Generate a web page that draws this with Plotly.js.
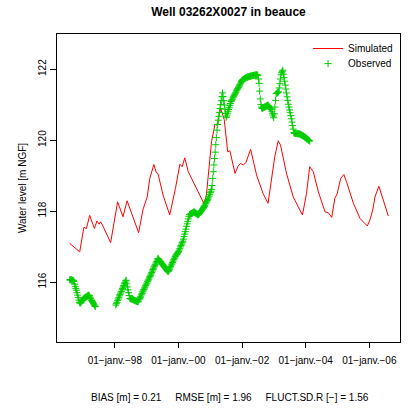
<!DOCTYPE html>
<html>
<head>
<meta charset="utf-8">
<script src="https://cdn.plot.ly/plotly-3.0.1.min.js"></script>
<style>html,body{margin:0;padding:0;background:#fff;}</style>
</head>
<body>
<div id="chart" style="width:414px;height:409px;"></div>
<script>
// Simulated water level (m NGF)
const simDates = ["1996-08-01","1996-11-24","1997-01-10","1997-02-09","1997-03-18","1997-05-11","1997-06-10","1997-07-05","1997-07-20","1997-08-11","1997-11-14",
"1998-02-02","1998-04-05","1998-05-22","1998-10-01","1998-11-21","1999-01-08","1999-02-06","1999-03-25","1999-04-23","1999-05-11","1999-07-09","1999-09-23","1999-11-28",
"2000-01-18","2000-02-13","2000-03-14","2000-04-23","2000-07-08","2000-09-01","2000-10-22","2000-11-17",
"2001-01-15","2001-02-24","2001-03-18","2001-04-30","2001-06-10","2001-07-20","2001-08-14","2001-10-12","2001-11-17","2001-12-13",
"2002-01-15","2002-02-13","2002-04-09","2002-06-17","2002-08-29","2002-10-26",
"2003-01-11","2003-02-20","2003-03-18","2003-05-26","2003-08-11","2003-11-25",
"2004-01-11","2004-02-16","2004-03-28","2004-05-26","2004-08-10","2004-09-19","2004-10-26","2004-12-01","2004-12-27",
"2005-02-06","2005-03-14","2005-04-16","2005-07-02","2005-09-16","2005-12-09",
"2006-01-08","2006-02-09","2006-03-07","2006-04-20","2006-06-10","2006-08-07"];
const simLevel = [117.09,116.85,117.54,117.51,117.88,117.51,117.72,117.63,117.70,117.61,117.11,
118.26,117.84,118.29,117.39,118.05,118.40,118.92,119.31,119.08,119.06,118.45,117.89,118.64,
119.32,119.25,119.50,119.11,118.73,118.45,118.20,118.45,
119.95,120.45,120.42,120.89,120.58,119.67,119.70,119.06,119.27,119.34,
119.30,119.36,119.74,119.01,118.50,118.22,
119.53,119.98,119.86,119.06,118.40,117.89,
118.50,119.25,119.11,118.54,117.98,117.95,117.82,118.36,118.48,
118.92,119.03,118.81,118.22,117.79,117.58,
117.75,118.03,118.40,118.70,118.31,117.86];

// Observed water level (weekly readings), two periods
const obs1Start = "1996-08-01";
const obs1Level = [116.06,116.07,116.06,116.06,116.05,116.05,116.04,116.02,115.94,115.88,115.82,115.77,115.70,115.63,115.56,115.49,115.43,115.40,115.42,115.44,
115.47,115.49,115.51,115.53,115.55,115.56,115.57,115.58,115.59,115.61,115.62,115.63,115.62,115.58,115.55,115.52,115.48,115.45,115.42,115.39,115.36,115.33,115.31];
const obs2Start = "1998-01-12";
const obs2Level = [
115.35,115.39,115.43,115.48,115.52,115.56,115.61,115.65,115.69,115.73,115.78,115.82,115.86,115.90,115.95,115.99,116.03,116.05,
115.95,115.86,115.78,115.70,115.62,115.54,
115.53,115.53,115.52,115.51,115.50,115.50,115.49,115.48,115.47,115.47,115.46,115.45,115.44,
115.46,115.50,115.53,115.57,115.60,115.64,115.68,115.72,115.75,115.79,115.83,115.86,115.90,115.94,115.97,116.01,116.05,116.08,116.12,
116.16,116.19,116.23,116.27,116.31,116.35,116.39,116.43,116.46,116.50,116.54,116.58,116.62,116.66,
116.65,116.62,116.60,116.58,116.56,116.53,116.51,116.49,116.46,116.44,116.42,116.40,116.37,116.35,116.33,116.31,116.29,
116.32,116.36,116.40,116.44,116.48,116.51,116.55,116.59,116.63,116.67,116.71,
116.73,116.76,116.78,116.80,116.83,
116.86,116.90,116.94,116.99,117.03,117.07,117.11,117.15,
117.21,117.28,117.35,117.42,117.49,117.57,117.64,117.71,117.78,117.85,
117.90,117.91,117.92,117.93,117.94,117.95,117.96,117.98,
117.97,117.96,117.94,117.93,117.92,117.90,117.89,
117.91,117.93,117.96,117.98,118.00,118.02,118.05,118.07,
118.10,118.13,118.16,118.20,118.23,118.26,118.30,118.33,
118.37,118.42,118.47,118.52,118.56,118.61,
118.72,118.92,119.11,119.30,119.48,
119.66,119.87,120.07,120.28,
120.44,120.56,120.67,120.78,
120.89,121.00,121.11,121.22,121.33,
121.23,121.11,120.99,120.87,120.75,120.64,
120.68,120.74,120.80,120.86,120.91,120.97,121.03,
121.09,121.12,121.15,121.19,121.22,121.25,121.29,121.32,121.35,
121.39,121.42,121.45,121.48,121.52,121.55,121.58,121.61,121.65,121.68,
121.70,121.71,121.72,121.73,121.74,121.75,121.76,121.77,
121.78,121.78,121.79,121.79,121.80,121.80,121.81,121.81,121.82,121.82,121.82,121.83,121.83,121.83,121.84,121.84,121.84,
121.82,121.72,
121.60,121.38,121.16,121.00,
120.93,120.89,
120.90,120.91,120.92,120.93,120.94,120.95,120.96,120.97,120.98,
120.98,120.95,120.93,120.90,120.88,120.86,
120.80,120.74,120.68,120.63,
120.74,120.93,121.12,121.31,
121.32,121.33,121.35,121.36,
121.47,121.59,121.72,121.84,
121.90,121.94,121.97,
121.86,121.76,121.66,
121.55,121.44,121.33,121.22,121.12,
121.01,120.93,120.85,120.77,120.69,120.60,
120.51,120.41,120.31,120.21,
120.19,120.19,120.19,120.19,120.18,120.18,120.18,120.18,120.17,
120.17,120.16,120.15,120.14,120.13,120.12,120.11,120.10,120.08,120.07,120.06,
120.04,120.03,120.01,120.00,119.99,119.97];

const tickDates = ["1998-01-01","2000-01-01","2002-01-01","2004-01-01","2006-01-01"];
const tickLabels = ["01\u2212janv.\u221298","01\u2212janv.\u221200","01\u2212janv.\u221202","01\u2212janv.\u221204","01\u2212janv.\u221206"];
const yTicks = [116,118,120,122];
const chartTitle = "Well 03262X0027 in beauce";
const yTitle = "Water level [m NGF]";
const statsText = "BIAS [m] = 0.21\u00a0\u00a0\u00a0\u00a0\u00a0RMSE [m] = 1.96\u00a0\u00a0\u00a0\u00a0\u00a0FLUCT.SD.R [\u2212] = 1.56";

function weekly(startISO, n) {
  const out = [];
  const d0 = new Date(startISO + "T00:00:00Z");
  for (let i = 0; i < n; i++) {
    const d = new Date(d0.getTime() + i * 7 * 86400000);
    out.push(d.toISOString().slice(0, 10));
  }
  return out;
}
const obsDates = weekly(obs1Start, obs1Level.length).concat(weekly(obs2Start, obs2Level.length));
const obsLevel = obs1Level.concat(obs2Level);

const FONT = "Liberation Sans, Arial, Helvetica, sans-serif";
const data = [
  {x: simDates, y: simLevel, type: "scatter", mode: "lines", name: "Simulated",
   line: {color: "#FF0000", width: 1}, legend: "legend"},
  {x: obsDates, y: obsLevel, type: "scatter", mode: "markers", name: "Observed",
   marker: {symbol: "cross-thin-open", size: 5, color: "#00CD00", line: {color: "#00CD00", width: 1}}, legend: "legend2"}
];
const legendCommon = {xanchor: "left", yanchor: "top", bgcolor: "rgba(0,0,0,0)", borderwidth: 0,
                      font: {family: FONT, size: 10, color: "#000"}};
const layout = {
  width: 414, height: 409,
  margin: {l: 57, r: 14, t: 34, b: 67},
  paper_bgcolor: "#fff", plot_bgcolor: "#fff",
  font: {family: FONT, size: 10, color: "#000"},
  title: {text: "<b>" + chartTitle + "</b>", font: {family: FONT, size: 12, color: "#000"},
          x: 0.5, xref: "paper", xanchor: "center", y: 1 - 12 / 409, yref: "container", yanchor: "middle"},
  showlegend: true,
  legend: Object.assign({x: 0.732, y: 1.0}, legendCommon),
  legend2: Object.assign({x: 0.732, y: 0.951}, legendCommon),
  xaxis: {type: "date", range: ["1996-03-08", "2006-12-19"], tickmode: "array", tickvals: tickDates, ticktext: tickLabels,
          ticks: "outside", ticklen: 5, tickwidth: 1, tickcolor: "#000", showline: true, mirror: true,
          linecolor: "#000", linewidth: 1, showgrid: false, zeroline: false, tickfont: {size: 10},
          ticklabelstandoff: 4, fixedrange: true},
  yaxis: {range: [114.31, 122.99], tickmode: "array", tickvals: yTicks, ticktext: yTicks.map(String),
          ticks: "outside", ticklen: 6, tickwidth: 1, tickcolor: "#000", tickangle: -90,
          showline: true, mirror: true, linecolor: "#000", linewidth: 1, showgrid: false, zeroline: false,
          tickfont: {size: 10}, title: {text: yTitle, font: {size: 10}, standoff: 8}, fixedrange: true},
  annotations: [{text: statsText, xref: "paper", yref: "paper", x: 0.503, y: -(397 - 342) / 308,
                 xanchor: "center", yanchor: "middle", showarrow: false, font: {family: FONT, size: 10, color: "#000"}}]
};
Plotly.newPlot("chart", data, layout, {staticPlot: true, displayModeBar: false});
</script>
</body>
</html>
